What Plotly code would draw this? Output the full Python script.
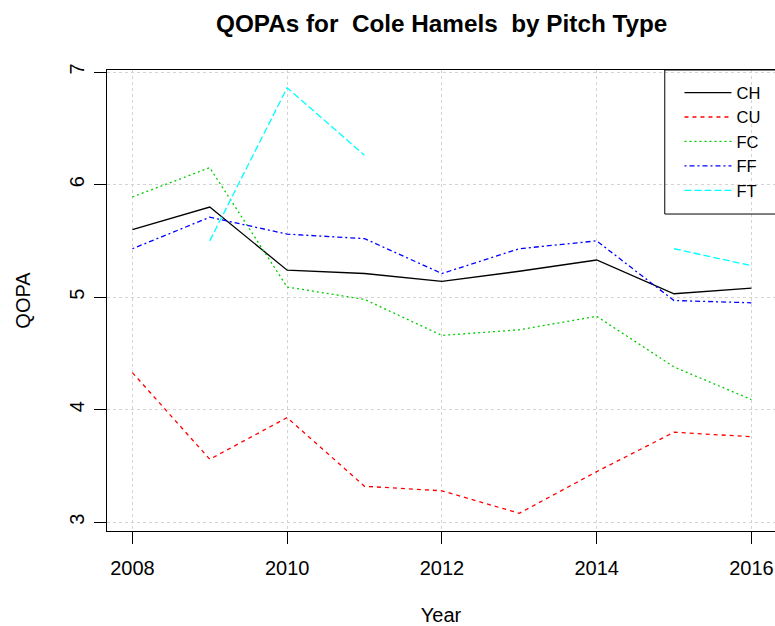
import plotly.graph_objects as go

# Season-by-season QOPA per pitch type
years = [2008, 2009, 2010, 2011, 2012, 2013, 2014, 2015, 2016]
ch = [5.60, 5.80, 5.24, 5.21, 5.14, 5.23, 5.33, 5.03, 5.08]
cu = [4.33, 3.56, 3.93, 3.32, 3.28, 3.08, 3.45, 3.80, 3.76]
fc = [5.89, 6.15, 5.09, 4.98, 4.66, 4.71, 4.83, 4.38, 4.09]
ff = [5.43, 5.71, 5.56, 5.52, 5.21, 5.43, 5.50, 4.97, 4.95]
ft = [None, 5.50, 6.86, 6.26, None, None, None, 5.43, 5.28]

pitch_types = ["CH", "CU", "FC", "FF", "FT"]
series = [ch, cu, fc, ff, ft]
colors = ["#000000", "#FF0000", "#00CD00", "#0000FF", "#00FFFF"]
dashes = ["solid", "4px,4px", "2px,3px", "2px,3px,5px,3px", "7px,3px"]

x_ticks = [2008, 2010, 2012, 2014, 2016]
y_ticks = [3, 4, 5, 6, 7]

FONT = "Liberation Sans, Arial, sans-serif"

fig = go.Figure()
for name, vals, col, dash in zip(pitch_types, series, colors, dashes):
    fig.add_trace(go.Scatter(
        x=years, y=vals, name=name, mode="lines",
        line=dict(color=col, width=1.3, dash=dash),
        connectgaps=False,
    ))

# legend frame, anchored to the top-right corner of the plot region
fig.add_shape(type="rect", xref="paper", yref="paper",
              x0=0.835, x1=1.02, y0=0.6876, y1=1.0,
              line=dict(color="black", width=1), fillcolor="rgba(0,0,0,0)")

fig.update_layout(
    width=775, height=626,
    margin=dict(l=107, r=0, t=70, b=95),
    paper_bgcolor="white", plot_bgcolor="white",
    font=dict(family=FONT, size=20, color="black"),
    title=dict(text="QOPAs for\u00a0\u00a0Cole Hamels\u00a0\u00a0by Pitch Type",
               x=441.7 / 775, xref="container", xanchor="center",
               y=1 - 23 / 626, yref="container", yanchor="middle",
               font=dict(family=FONT, size=24.3, weight="bold", color="black")),
    showlegend=True,
    legend=dict(x=0.857, y=0.9885, xanchor="left", yanchor="top",
                bgcolor="rgba(0,0,0,0)", borderwidth=0, itemwidth=47,
                font=dict(family=FONT, size=16.5), tracegroupgap=0),
    xaxis=dict(range=[2007.672, 2016.305], tickvals=x_ticks,
               showline=True, linecolor="black", linewidth=1, mirror=True,
               ticks="outside", ticklen=12, tickcolor="black",
               ticklabelstandoff=7,
               showgrid=True, gridcolor="#D3D3D3", griddash="dot", gridwidth=1,
               zeroline=False,
               title=dict(text="Year", standoff=30,
                          font=dict(family=FONT, size=20))),
    yaxis=dict(range=[2.9227, 7.0178], tickvals=y_ticks, tickangle=-90,
               showline=True, linecolor="black", linewidth=1, mirror=False,
               ticks="outside", ticklen=12, tickcolor="black",
               ticklabelstandoff=2,
               showgrid=True, gridcolor="#D3D3D3", griddash="dot", gridwidth=1,
               zeroline=False,
               title=dict(text="QOPA", standoff=30,
                          font=dict(family=FONT, size=20))),
)

fig.write_html("out.html")
